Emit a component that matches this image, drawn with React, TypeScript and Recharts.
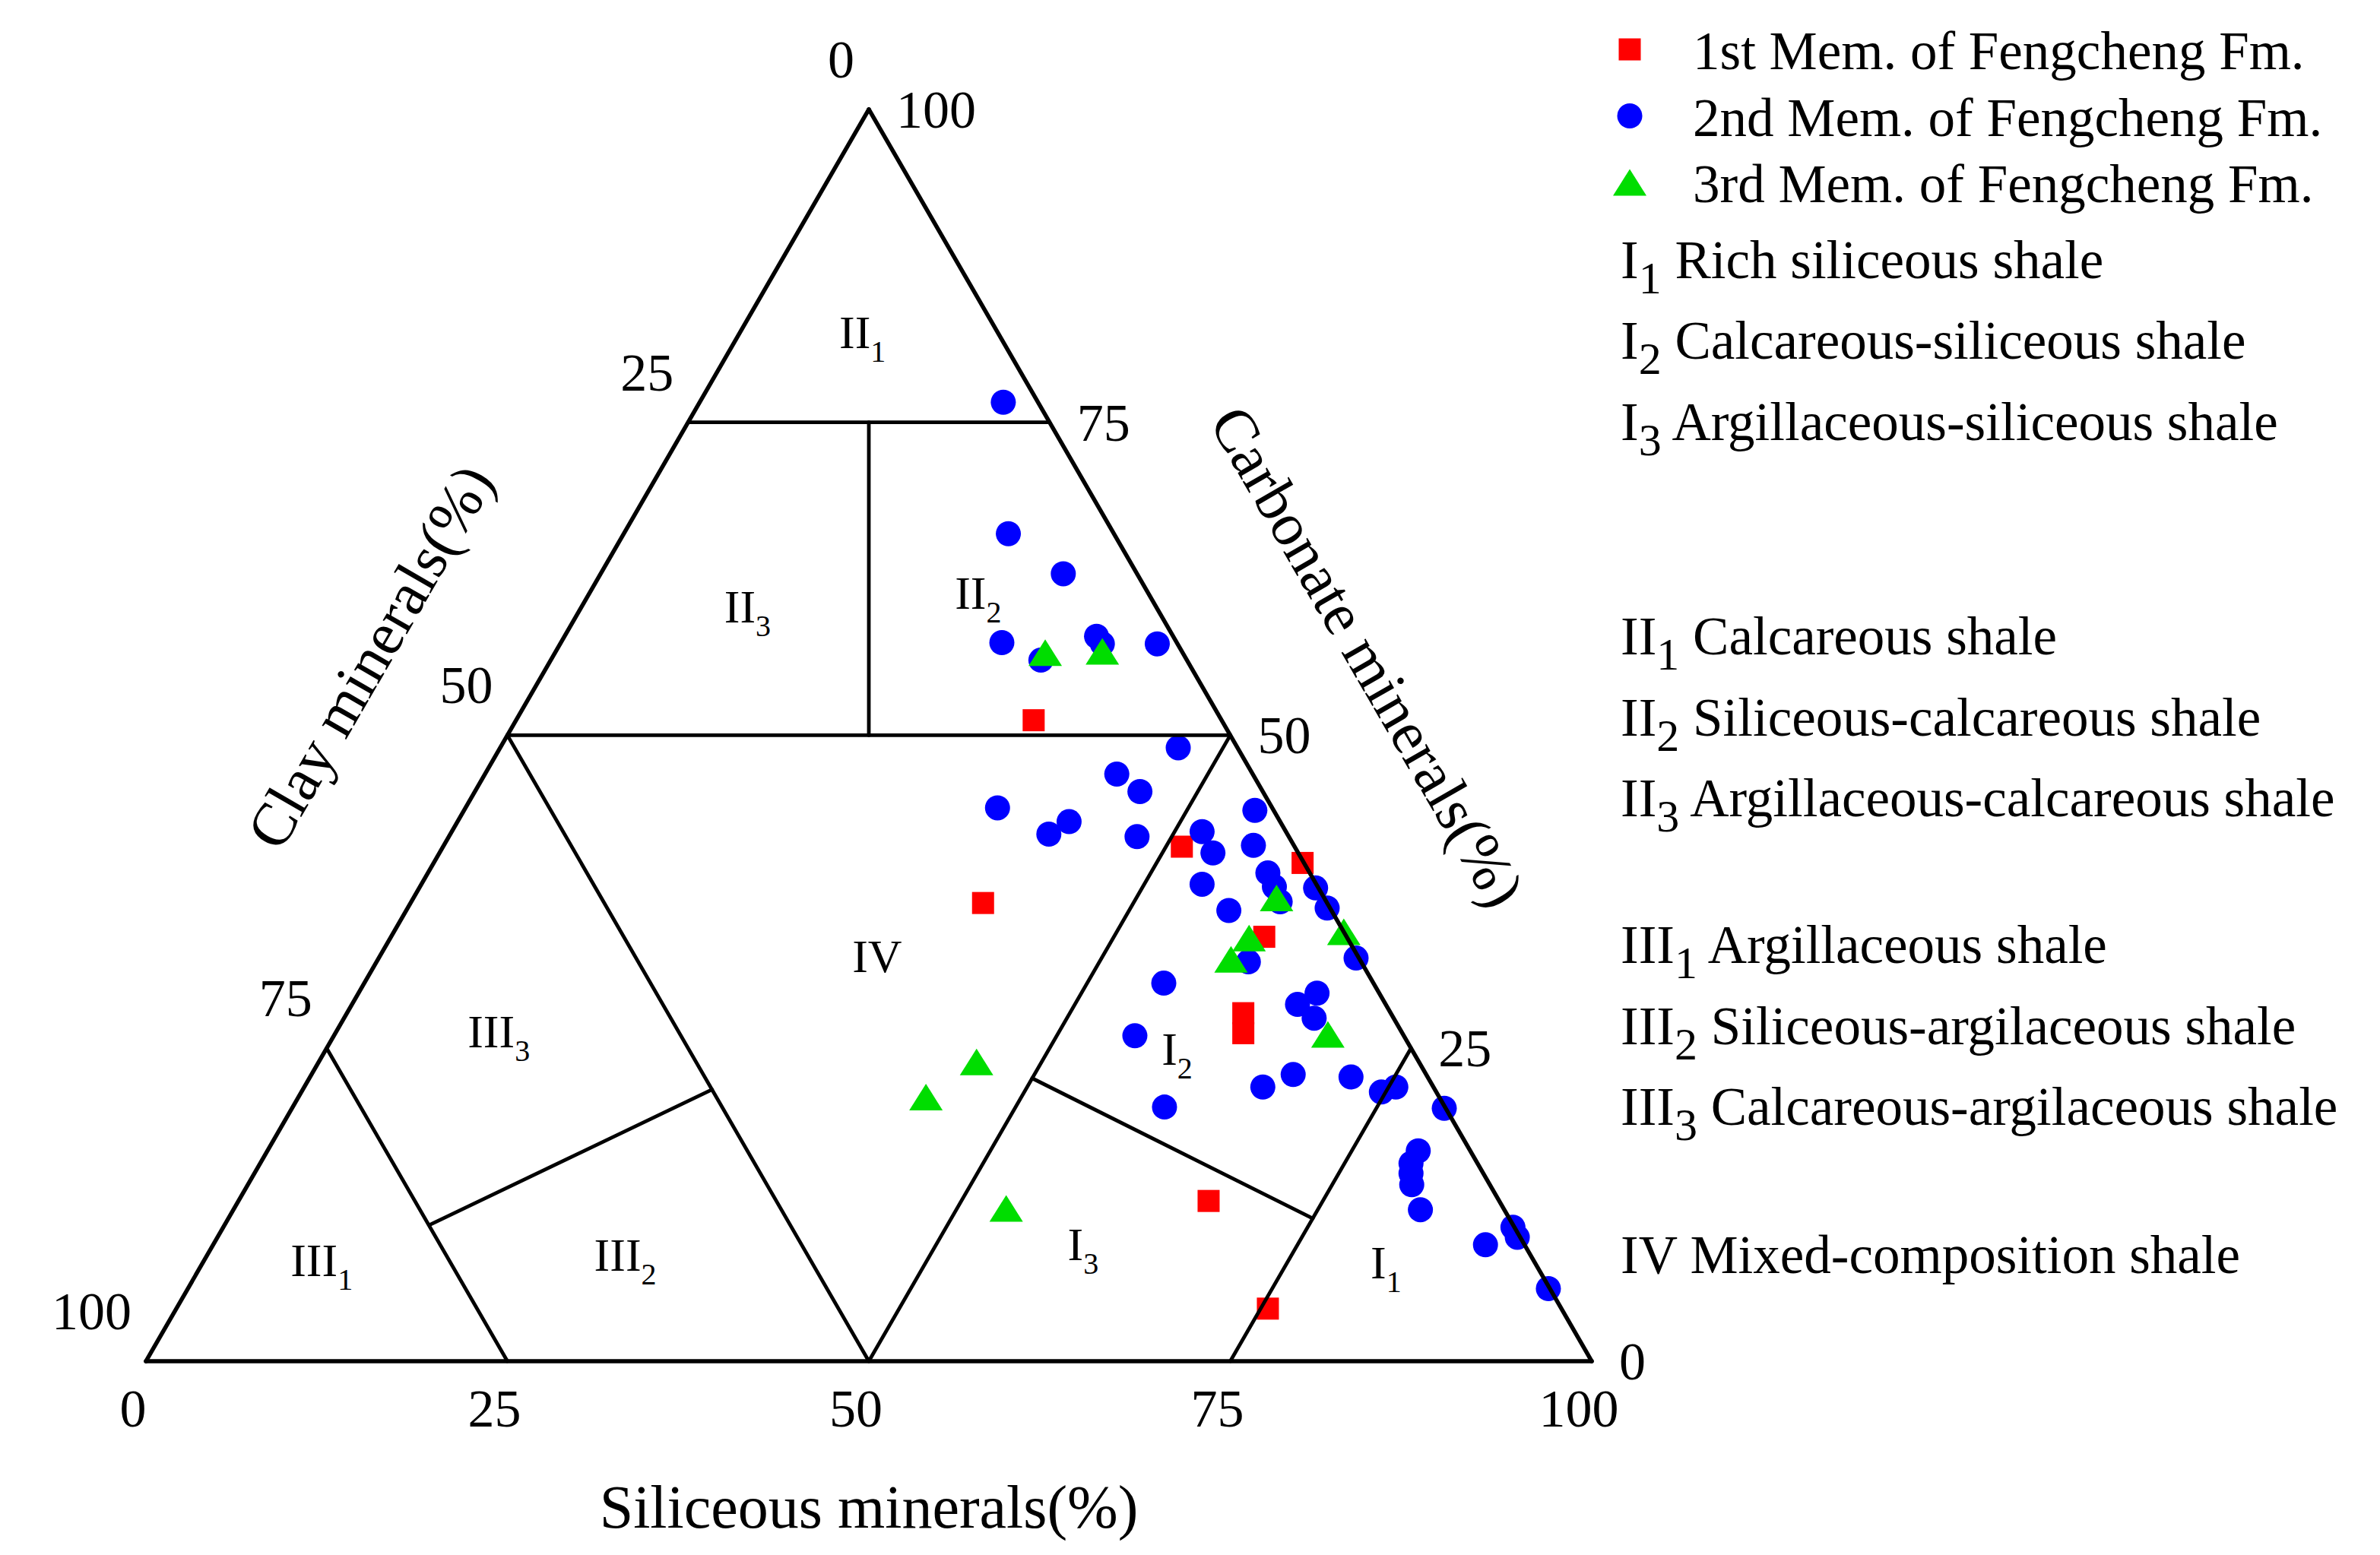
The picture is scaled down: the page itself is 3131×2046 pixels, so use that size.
import React from "react";
import { ScatterChart, Scatter, XAxis, YAxis, ReferenceLine, Legend } from "recharts";

type Comp = [number, number, number]; // [siliceous, carbonate, clay] %

// 1st Member samples
const member1: Comp[] = [
	[35.8, 51.2, 13.0],
	[51.1, 41.1, 7.8],
	[60.1, 39.8, 0.1],
	[39.6, 36.6, 23.8],
	[60.4, 33.9, 5.7],
	[62.0, 27.8, 10.2],
	[62.8, 26.2, 11.0],
	[67.1, 12.8, 20.1],
	[75.5, 4.2, 20.3],
];

// 2nd Member samples
const member2: Comp[] = [
	[21.0, 76.6, 2.4],
	[26.6, 66.1, 7.3],
	[32.0, 62.9, 5.1],
	[30.5, 57.4, 12.1],
	[33.9, 56.0, 10.1],
	[36.8, 57.9, 5.3],
	[37.5, 57.3, 5.2],
	[41.3, 57.3, 1.4],
	[46.9, 49.0, 4.1],
	[43.7, 46.9, 9.4],
	[46.0, 45.5, 8.5],
	[36.8, 44.2, 19.0],
	[42.3, 43.1, 14.6],
	[41.4, 42.1, 16.5],
	[47.6, 41.9, 10.5],
	[54.7, 44.0, 1.3],
	[51.9, 42.3, 5.8],
	[53.5, 40.6, 5.9],
	[56.0, 41.2, 2.8],
	[58.1, 39.0, 2.9],
	[59.1, 37.9, 3.0],
	[60.1, 36.7, 3.2],
	[54.0, 38.1, 7.9],
	[56.9, 36.0, 7.1],
	[62.0, 37.8, 0.2],
	[63.6, 36.2, 0.2],
	[67.6, 32.2, 0.2],
	[60.3, 31.9, 7.8],
	[55.3, 30.2, 14.5],
	[66.3, 29.4, 4.3],
	[65.4, 28.5, 6.1],
	[67.1, 27.4, 5.5],
	[55.4, 26.0, 18.6],
	[66.3, 21.9, 11.8],
	[67.9, 22.9, 9.2],
	[72.0, 22.7, 5.3],
	[74.7, 21.5, 3.8],
	[75.5, 21.9, 2.6],
	[79.7, 20.2, 0.1],
	[60.3, 20.3, 19.4],
	[79.6, 16.8, 3.6],
	[79.6, 15.8, 4.6],
	[80.0, 15.0, 5.0],
	[80.5, 14.1, 5.4],
	[82.1, 12.1, 5.8],
	[89.2, 10.7, 0.1],
	[89.9, 9.9, 0.2],
	[88.0, 9.3, 2.7],
	[94.1, 5.8, 0.1],
];

// 3rd Member samples
const member3: Comp[] = [
	[33.9, 56.6, 9.5],
	[37.8, 56.7, 5.5],
	[59.7, 37.0, 3.3],
	[65.7, 34.3, 0.0],
	[59.4, 33.8, 6.8],
	[59.0, 32.1, 8.9],
	[68.7, 26.1, 5.2],
	[45.5, 23.9, 30.6],
	[43.4, 21.1, 35.5],
	[53.4, 12.2, 34.4],
];

const ticks = [0, 25, 50, 75, 100];

const series = [
	{ key: "m1", name: "1st Mem. of Fengcheng Fm.", data: member1, color: "#ff0000", symbol: "square" },
	{ key: "m2", name: "2nd Mem. of Fengcheng Fm.", data: member2, color: "#0000ff", symbol: "circle" },
	{ key: "m3", name: "3rd Mem. of Fengcheng Fm.", data: member3, color: "#00dd00", symbol: "triangle" },
];

const classGroups = [
	[
		{ code: "I", sub: "1", name: "Rich siliceous shale" },
		{ code: "I", sub: "2", name: "Calcareous-siliceous shale" },
		{ code: "I", sub: "3", name: "Argillaceous-siliceous shale" },
	],
	[
		{ code: "II", sub: "1", name: "Calcareous shale" },
		{ code: "II", sub: "2", name: "Siliceous-calcareous shale" },
		{ code: "II", sub: "3", name: "Argillaceous-calcareous shale" },
	],
	[
		{ code: "III", sub: "1", name: "Argillaceous shale" },
		{ code: "III", sub: "2", name: "Siliceous-argilaceous shale" },
		{ code: "III", sub: "3", name: "Calcareous-argilaceous shale" },
	],
	[{ code: "IV", sub: "", name: "Mixed-composition shale" }],
];

// triangle edges and class boundaries, ends as [siliceous, carbonate, clay]
const outline: [Comp, Comp][] = [
	[[0, 0, 100], [100, 0, 0]],
	[[100, 0, 0], [0, 100, 0]],
	[[0, 100, 0], [0, 0, 100]],
];
const boundaries: [Comp, Comp][] = [
	[[0, 75, 25], [25, 75, 0]],
	[[0, 50, 50], [50, 50, 0]],
	[[12.5, 75, 12.5], [25, 50, 25]],
	[[0, 50, 50], [50, 0, 50]],
	[[50, 50, 0], [50, 0, 50]],
	[[0, 25, 75], [25, 0, 75]],
	[[14.2, 10.9, 74.9], [28.3, 21.7, 50]],
	[[75, 25, 0], [75, 0, 25]],
	[[50, 22.6, 27.4], [75, 11.4, 13.6]],
];

// where the class codes sit inside the triangle (text start, baseline)
const regionLabels = [
	{ code: "II", sub: "1", at: [7.5, 80.9, 11.6] as Comp },
	{ code: "II", sub: "3", at: [10.5, 59.0, 30.5] as Comp },
	{ code: "II", sub: "2", at: [25.9, 60.1, 14.0] as Comp },
	{ code: "III", sub: "3", at: [9.7, 25.1, 65.2] as Comp },
	{ code: "III", sub: "1", at: [6.6, 6.8, 86.6] as Comp },
	{ code: "III", sub: "2", at: [27.4, 7.2, 65.4] as Comp },
	{ code: "IV", sub: "", at: [33.3, 31.1, 35.6] as Comp },
	{ code: "I", sub: "2", at: [58.4, 23.7, 17.9] as Comp },
	{ code: "I", sub: "3", at: [59.7, 8.1, 32.2] as Comp },
	{ code: "I", sub: "1", at: [81.4, 6.6, 12.0] as Comp },
];

const W = 3115;
const H = 2030;
const UNIT = 19.02; // px per 1 %
const ORIGIN_X = 184; // clay corner in px
const ORIGIN_Y = 1783;
const X_DOMAIN = [-ORIGIN_X / UNIT, (W - ORIGIN_X) / UNIT];
const Y_DOMAIN = [-(H - ORIGIN_Y) / UNIT, ORIGIN_Y / UNIT];
const FONT = '"Liberation Serif", "Times New Roman", Times, serif';
const H3 = Math.sqrt(3) / 2;

const toXY = ([s, c, k]: Comp) => {
	const t = s + c + k;
	const S = (s / t) * 100;
	const C = (c / t) * 100;
	return { x: S + C / 2, y: C * H3 };
};

const textItems = [
	...ticks.map((v) => ({ ...toXY([v, 0, 100 - v]), text: String(v), dx: -17, dy: 86, anchor: "middle", size: 70, rotate: 0 })),
	...ticks.map((v) => ({ ...toXY([100 - v, v, 0]), text: String(v), dx: 36, dy: 24, anchor: "start", size: 70, rotate: 0 })),
	...ticks.map((v) => ({ ...toXY([0, 100 - v, v]), text: String(v), dx: -19, dy: -42, anchor: "end", size: 70, rotate: 0 })),
	{ ...toXY([50, 0, 50]), text: "Siliceous minerals(%)", dx: 0, dy: 219, anchor: "middle", size: 80, rotate: 0 },
	{ ...toXY([0, 50, 50]), text: "Clay minerals(%)", dx: -157, dy: -90, anchor: "middle", size: 80, rotate: -60 },
	{ ...toXY([50, 50, 0]), text: "Carbonate minerals(%)", dx: 157, dy: -90, anchor: "middle", size: 80, rotate: 60 },
];

const marker = (symbol: string, cx: number, cy: number, color: string) => {
	if (symbol === "square")
		return <rect x={cx - 14.5} y={cy - 14.5} width={29} height={29} fill={color} />;
	if (symbol === "triangle")
		return <path d={`M${cx},${cy - 17.5}L${cx + 22},${cy + 17.5}L${cx - 22},${cy + 17.5}Z`} fill={color} />;
	return <circle cx={cx} cy={cy} r={16.5} fill={color} />;
};

const TextShape = (p: any) => {
	const d = p.payload;
	const x = p.cx + d.dx;
	const y = p.cy + d.dy;
	return (
		<text
			x={x}
			y={y}
			textAnchor={d.anchor}
			fontFamily={FONT}
			fontSize={d.size}
			fill="#000"
			transform={d.rotate ? `rotate(${d.rotate} ${x} ${y})` : undefined}>
			{d.text}
		</text>
	);
};

const RegionShape = (p: any) => {
	const d = p.payload;
	return (
		<text x={p.cx} y={p.cy} fontFamily={FONT} fontSize={62} fill="#000">
			{d.code}
			{d.sub && (
				<tspan dy={18} fontSize={40}>
					{d.sub}
				</tspan>
			)}
		</text>
	);
};

const groupTops = [357.5, 853, 1259, 1667];

const LegendBox = () => (
	<svg width={1015} height={1720} style={{ display: "block" }}>
		{series.map((s, i) => {
			const cy = 57 + i * 87.5;
			return (
				<g key={s.key}>
					{marker(s.symbol, 36, cy, s.color)}
					<text x={119} y={cy + 26} fontFamily={FONT} fontSize={71} fill="#000">
						{s.name}
					</text>
				</g>
			);
		})}
		{classGroups.map((g, gi) =>
			g.map((row, ri) => (
				<text
					key={`${gi}-${ri}`}
					x={24}
					y={groupTops[gi] + ri * 106.5}
					fontFamily={FONT}
					fontSize={71}
					fill="#000"
					style={{ whiteSpace: "pre" }}>
					{row.code}
					{row.sub && (
						<tspan dy={20} fontSize={60}>
							{row.sub}
						</tspan>
					)}
					<tspan dy={row.sub ? -20 : 0}>{" " + row.name}</tspan>
				</text>
			))
		)}
	</svg>
);

export default function App() {
	return (
		<ScatterChart width={W} height={H} margin={{ top: 0, right: 0, bottom: 0, left: 0 }}>
			<XAxis type="number" dataKey="x" domain={X_DOMAIN} allowDataOverflow hide />
			<YAxis type="number" dataKey="y" domain={Y_DOMAIN} allowDataOverflow hide />
			{series.map((s) => (
				<Scatter
					key={s.key}
					name={s.name}
					data={s.data.map(toXY)}
					isAnimationActive={false}
					shape={(p: any) => marker(s.symbol, p.cx, p.cy, s.color)}
				/>
			))}
			{[...outline, ...boundaries].map(([a, b], i) => (
				<ReferenceLine
					key={i}
					segment={[toXY(a), toXY(b)]}
					stroke="#000"
					strokeWidth={i < outline.length ? 5.5 : 4.8}
					strokeLinecap="round"
					zIndex={900}
				/>
			))}
			<Scatter
				name="regions"
				data={regionLabels.map((r) => ({ ...toXY(r.at), code: r.code, sub: r.sub }))}
				isAnimationActive={false}
				shape={RegionShape}
			/>
			<Scatter name="labels" data={textItems} isAnimationActive={false} shape={TextShape} />
			<Legend
				layout="vertical"
				align="center"
				verticalAlign="middle"
				content={() => <LegendBox />}
				wrapperStyle={{ left: 2100, top: 0, width: 1015, height: 1720 }}
			/>
		</ScatterChart>
	);
}
